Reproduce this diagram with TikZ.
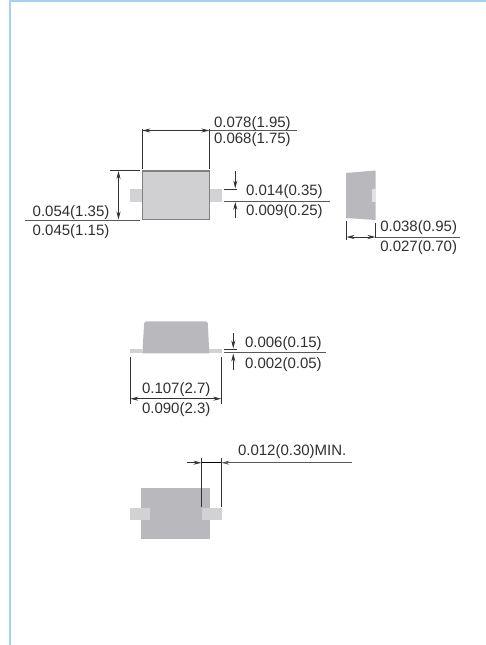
\documentclass[tikz,border=0pt]{standalone}
\usepackage{fontspec}
\setmainfont{Liberation Sans}
\usetikzlibrary{arrows.meta}
\definecolor{frameblue}{HTML}{A3D2F5}
\definecolor{bodylight}{HTML}{D0D0D3}
\definecolor{bodymid}{HTML}{B9B9BD}
\definecolor{leadlight}{HTML}{D2D2D4}
\definecolor{leadpale}{HTML}{E2E2E4}
\definecolor{inkgray}{HTML}{303030}
\tikzset{
  dimtext/.style={anchor=base west,inner sep=0pt,outer sep=0pt,text=inkgray,font=\fontsize{15}{15}\selectfont},
  extline/.style={draw=black!80,line width=0.9pt},
  ruleline/.style={draw=black!65,line width=0.8pt},
  dimarrow/.style={draw=black!80,line width=0.8pt,-{Stealth[length=8pt,width=4pt]}},
  dimboth/.style={draw=black!80,line width=0.8pt,{Stealth[length=8pt,width=4pt]}-{Stealth[length=8pt,width=4pt]}},
  frameedge/.style={fill=frameblue,draw=none},
}
\begin{document}
\begin{tikzpicture}[x=1pt,y=-1pt]
\useasboundingbox (0,0) rectangle (486,645);
\fill[white] (0,0) rectangle (486,645);
% frame
\path[frameedge] (9,0) rectangle (486,2);
\path[frameedge] (9,0) rectangle (11,645);

% --- top view ---
\fill[leadlight] (130,189) rectangle (142,201.7);
\fill[leadlight] (209,189) rectangle (222,201.7);
\draw[fill=bodylight,draw=black!50,line width=1.2pt] (142.5,171) rectangle (209.3,219.3);
\draw[extline] (142,129) -- (142,169);
\draw[extline] (209.5,129) -- (209.5,169);
\draw[dimboth] (142.3,130.5) -- (209.3,130.5);
\draw[ruleline] (209.5,130.5) -- (297,130.5);
\draw[extline] (110,170.5) -- (140,170.5);
\draw[dimboth] (118.5,171) -- (118.5,219.5);
\draw[ruleline] (25,220) -- (140,220);
\draw[dimarrow] (235.3,171) -- (235.3,188.5);
\draw[extline] (224.3,189) -- (237,189);
\draw[ruleline] (224.3,201.3) -- (330,201.3);
\draw[dimarrow] (235.3,217.5) -- (235.3,201.8);
\node[dimtext] (t1a) at (214,127.3) {0.078(1.95)};
\node[dimtext] (t1b) at (214,143.3) {0.068(1.75)};
\node[dimtext] (t2a) at (32.7,216) {0.054(1.35)};
\node[dimtext] (t2b) at (32.7,235.7) {0.045(1.15)};
\node[dimtext] (t3a) at (246,195) {0.014(0.35)};
\node[dimtext] (t3b) at (246,215) {0.009(0.25)};

% --- side view ---
\fill[bodymid] (346,173) -- (375.5,170.5) -- (375.5,220) -- (346,218) -- cycle;
\fill[leadpale] (372,189) rectangle (375.5,202);
\draw[extline] (346.3,220.5) -- (346.3,239.5);
\draw[extline] (375.7,223) -- (375.7,238);
\draw[dimboth] (346.5,237) -- (375.5,237);
\draw[ruleline] (375.7,237) -- (459.5,237);
\node[dimtext] (t4a) at (380.3,231.7) {0.038(0.95)};
\node[dimtext] (t4b) at (380.3,251.7) {0.027(0.70)};

% --- front view ---
\fill[bodymid] (142.3,353.3) -- (144.2,323) .. controls (144.3,321.8) and (144.8,321.3) .. (146,321.3) -- (206,321.3) .. controls (207.2,321.3) and (207.7,321.8) .. (207.8,323) -- (209.3,353.3) -- cycle;
\fill[leadlight] (130,349) rectangle (142.3,353.3);
\fill[leadlight] (209.3,349) rectangle (222,353.3);
\draw[extline] (130,357) -- (130,404);
\draw[extline] (221.5,357) -- (221.5,404);
\draw[dimboth] (130.3,398.7) -- (221.3,398.7);
\draw[dimarrow] (233.3,333.3) -- (233.3,348.5);
\draw[extline] (224,349.3) -- (237,349.3);
\draw[ruleline] (224,352.7) -- (326,352.7);
\draw[dimarrow] (233.3,370) -- (233.3,353.5);
\node[dimtext] (t5a) at (142,393.3) {0.107(2.7)};
\node[dimtext] (t5b) at (142,413.3) {0.090(2.3)};
\node[dimtext] (t6a) at (245,347.3) {0.006(0.15)};
\node[dimtext] (t6b) at (245,368.3) {0.002(0.05)};

% --- footprint view ---
\fill[bodymid] (141,488) rectangle (210,539);
\fill[leadlight] (130,508) rectangle (150,520);
\fill[leadlight] (202,508) rectangle (222,520);
\draw[extline] (201.7,458) -- (201.7,506.7);
\draw[extline] (221,458) -- (221,506.7);
\draw[dimarrow] (186.7,462.7) -- (201.5,462.7);
\draw[draw=black,line width=1.2pt] (201.7,462.7) -- (221,462.7);
\draw[dimarrow,draw=black!65] (352,462.7) -- (221.3,462.7);
\node[dimtext] (t7) at (238,455) {0.012(0.30)MIN.};
\end{tikzpicture}
\end{document}
